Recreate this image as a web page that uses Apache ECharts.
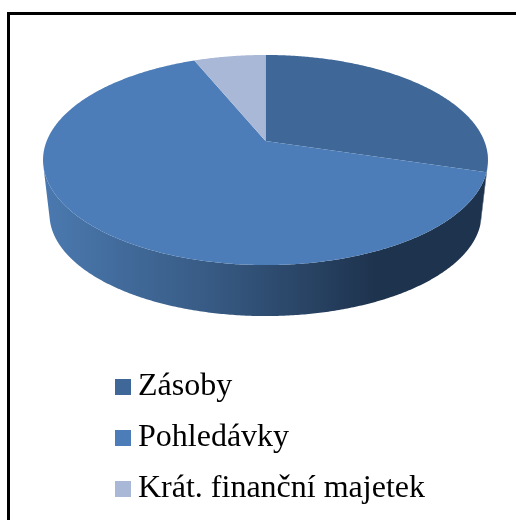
<!DOCTYPE html>
<html>
<head>
<meta charset="utf-8">
<style>
  html, body { margin: 0; padding: 0; background: #fff; }
  #chart { width: 516px; height: 520px; }
</style>
<script src="https://cdn.jsdelivr.net/npm/echarts@6/dist/echarts.min.js"></script>
</head>
<body>
<div id="chart"></div>
<script>
// data
const categories = ['Zásoby', 'Pohledávky', 'Krát. finanční majetek']
const values = [29.7, 64.1, 6.2]
const colors = ['#3f6797', '#4c7db8', '#a9b8d6']

// perspective of the disc, fitted to the picture
const cx = 265.5
const cy = 141
const rx = 218.8
const ry = 101.6
const persp = 0.181
const depth = 54.6
const bottomScale = 0.971

const total = values.reduce((a, b) => a + b, 0)

const rimPoint = (deg, bottom) => {
  const t = deg * Math.PI / 180
  const x = Math.sin(t)
  const y = -Math.cos(t)
  const w = 1 - persp * y
  const s = bottom ? bottomScale : 1
  return [cx + s * rx * x / w, cy + (bottom ? depth : 0) + s * ry * y / w]
}

// true when the side wall at this angle faces the viewer
const wallVisible = (deg) => {
  const p = rimPoint(deg, false)
  const q = rimPoint(deg + 0.5, false)
  const b = rimPoint(deg, true)
  return (q[0] - p[0]) * (b[1] - p[1]) - (q[1] - p[1]) * (b[0] - p[0]) < 0
}

// side wall shading runs left to right across the whole pie
const wallColor = new echarts.graphic.LinearGradient(50, 0, 375, 0, [
  { offset: 0, color: '#4a78ae' },
  { offset: 0.5, color: '#375a83' },
  { offset: 1, color: '#1e334e' }
], true)

const makeSeries = (name, index) => {
  const startPct = values.slice(0, index).reduce((a, b) => a + b, 0)
  return {
    name,
    type: 'custom',
    coordinateSystem: 'none',
    silent: true,
    animation: false,
    itemStyle: { color: colors[index] },
    data: [values[index]],
    renderItem: (params, api) => {
      const a0 = startPct / total * 360
      const a1 = a0 + api.value(0) / total * 360
      const steps = Math.ceil((a1 - a0) * 2)
      const top = []
      const wallAngles = []
      for (let i = 0; i <= steps; i++) {
        const a = a0 + (a1 - a0) * i / steps
        top.push(rimPoint(a, false))
        if (wallVisible(a)) wallAngles.push(a)
      }
      const children = []
      if (wallAngles.length > 1) {
        const upper = wallAngles.map(a => rimPoint(a, false))
        const lower = wallAngles.map(a => rimPoint(a, true)).reverse()
        children.push({
          type: 'polygon',
          z2: 1,
          shape: { points: upper.concat(lower) },
          style: { fill: wallColor }
        })
      }
      children.push({
        type: 'polygon',
        z2: 2,
        shape: { points: [[cx, cy]].concat(top) },
        style: { fill: colors[index] }
      })
      return { type: 'group', children }
    }
  }
}

const chart = echarts.init(document.getElementById('chart'), null, { renderer: 'canvas' })

chart.setOption({
  backgroundColor: '#fff',
  animation: false,
  legend: {
    orient: 'vertical',
    left: 115,
    top: 371,
    icon: 'rect',
    itemWidth: 16,
    itemHeight: 16,
    itemGap: 19,
    padding: 0,
    selectedMode: false,
    data: categories,
    textStyle: {
      fontFamily: 'Liberation Serif',
      fontSize: 32,
      color: '#000',
      padding: [0, 0, 0, 2]
    }
  },
  graphic: [{
    type: 'rect',
    silent: true,
    shape: { x: 8.5, y: 13.5, width: 520, height: 520 },
    style: { fill: 'none', stroke: '#000', lineWidth: 3 }
  }],
  series: categories.map(makeSeries)
})
</script>
</body>
</html>
